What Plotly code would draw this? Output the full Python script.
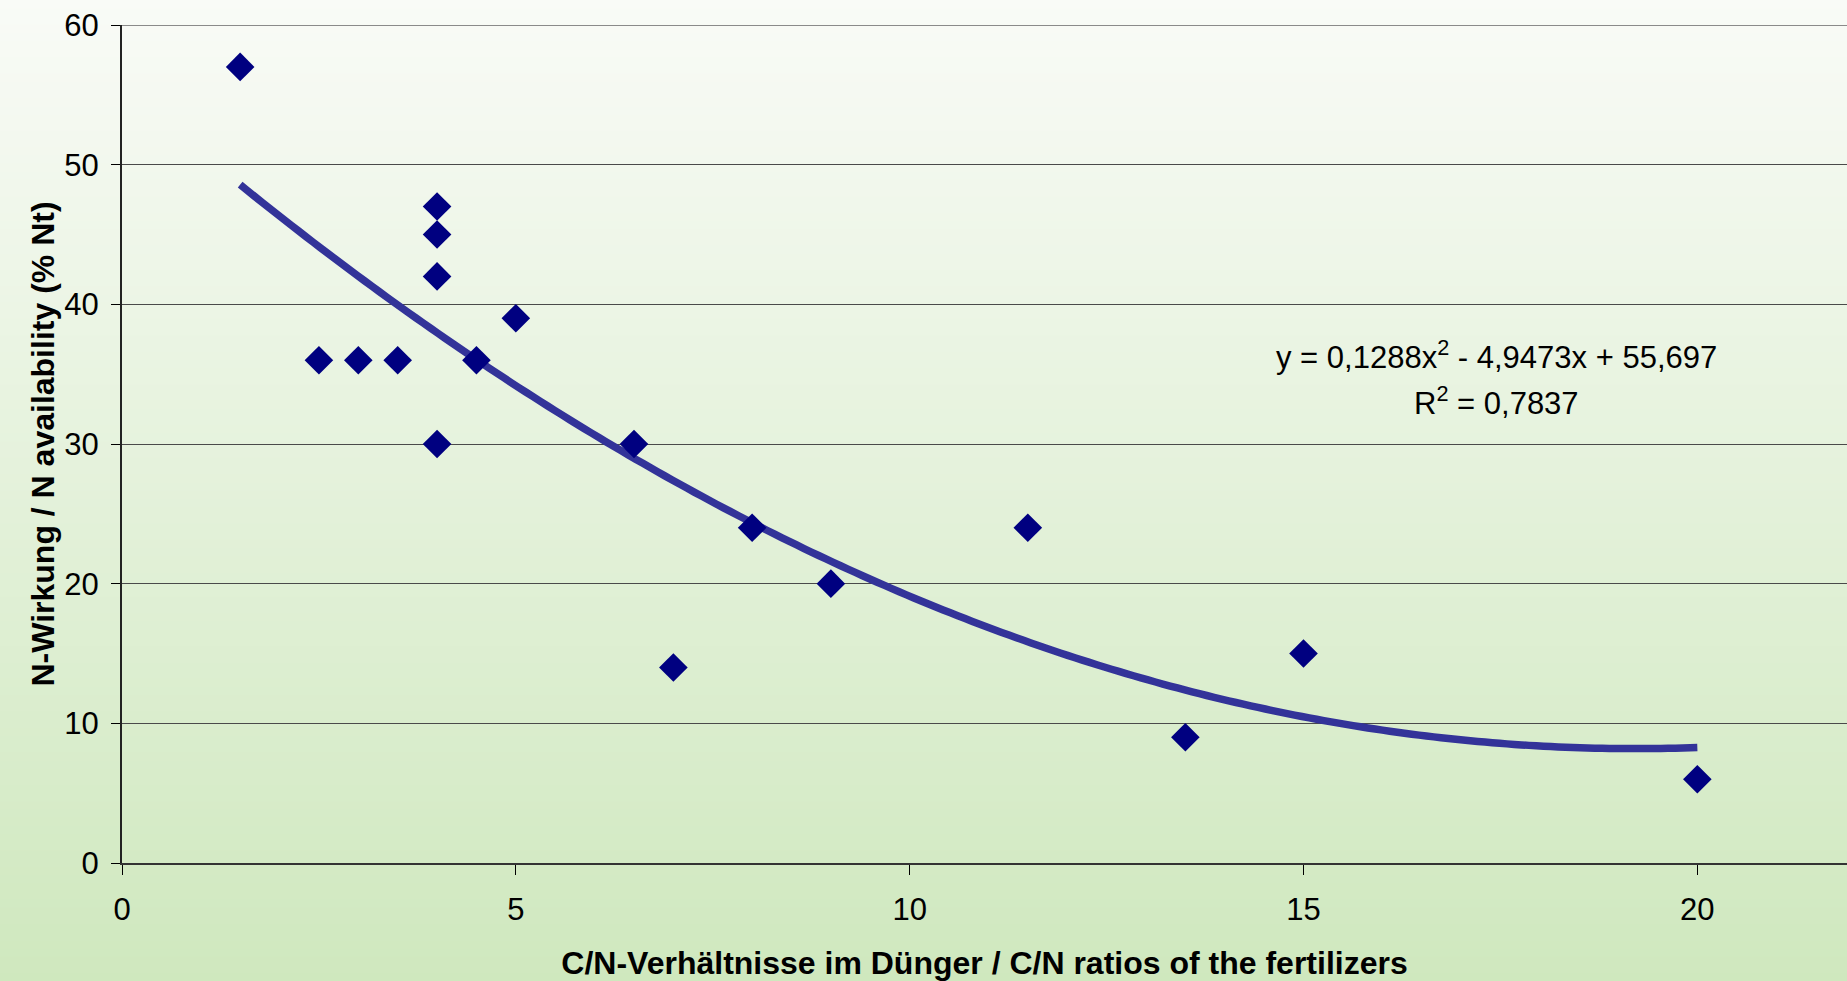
import numpy as np
import plotly.graph_objects as go

# C/N ratio of each fertilizer and its measured N availability (% Nt)
cn_ratio = [1.5, 2.5, 3.0, 3.5, 4.0, 4.0, 4.0, 4.0, 4.5, 5.0, 6.5, 7.0, 8.0, 9.0, 11.5, 13.5, 15.0, 20.0]
n_availability = [57, 36, 36, 36, 47, 45, 42, 30, 36, 39, 30, 14, 24, 20, 24, 9, 15, 6]

# Polynomial trend line (2nd order): y = a*x^2 + b*x + c
trend_a, trend_b, trend_c = 0.1288, -4.9473, 55.697
r_squared = "0,7837"

x_ticks = [0, 5, 10, 15, 20]
y_ticks = [0, 10, 20, 30, 40, 50, 60]

W, H = 1847, 981
M_L, M_R, M_T, M_B = 122, 0, 25, 118
FONT = "Liberation Sans, Arial, sans-serif"

trend_x = np.linspace(min(cn_ratio), max(cn_ratio), 200)
trend_y = trend_a * trend_x ** 2 + trend_b * trend_x + trend_c

fig = go.Figure()
fig.add_trace(go.Scatter(
    x=trend_x, y=trend_y, mode="lines",
    line=dict(color="#333399", width=7.5, simplify=False),
    hoverinfo="skip", showlegend=False,
))
fig.add_trace(go.Scatter(
    x=cn_ratio, y=n_availability, mode="markers",
    marker=dict(symbol="diamond", size=22, color="#000080", line=dict(width=0)),
    showlegend=False,
))

# vertical background gradient over the whole canvas (paper coordinates)
plot_h = H - M_T - M_B
plot_w = W - M_L - M_R
y_bottom = -M_B / plot_h
y_top = 1 + M_T / plot_h
x_left = -M_L / plot_w
top_rgb = np.array([249, 251, 247])
bot_rgb = np.array([207, 232, 190])
n_strips = 120
shapes = []
for i in range(n_strips):
    t0 = i / n_strips
    t1 = (i + 1) / n_strips
    tm = (t0 + t1) / 2
    c = bot_rgb + (top_rgb - bot_rgb) * tm
    shapes.append(dict(
        type="rect", xref="paper", yref="paper", layer="below",
        x0=x_left, x1=1.0,
        y0=y_bottom + (y_top - y_bottom) * t0,
        y1=y_bottom + (y_top - y_bottom) * t1 + 0.002,
        fillcolor="rgb(%d,%d,%d)" % tuple(c.round().astype(int)),
        line=dict(width=0),
    ))
# plot-area top border
shapes.append(dict(type="line", xref="paper", yref="y", x0=0, x1=1, y0=60, y1=60,
                   line=dict(color="#8a8a8a", width=2), layer="below"))

fig.update_layout(
    width=W, height=H,
    margin=dict(l=M_L, r=M_R, t=M_T, b=M_B, pad=0),
    paper_bgcolor="rgb(207,232,190)",
    plot_bgcolor="rgba(0,0,0,0)",
    font=dict(family=FONT, color="#000000", size=32),
    shapes=shapes,
    xaxis=dict(
        range=[0, 21.9], tickvals=x_ticks, ticks="outside", ticklen=10,
        tickwidth=1, tickcolor="#000000", showgrid=False, zeroline=False,
        showline=True, linecolor="#333333", linewidth=2,
        tickfont=dict(size=31), ticklabelstandoff=8,
        title=dict(text="<b>C/N-Verhältnisse im Dünger / C/N ratios of the fertilizers</b>",
                   font=dict(size=32), standoff=28),
    ),
    yaxis=dict(
        range=[0, 60], tickvals=y_ticks, ticks="outside", ticklen=9,
        tickwidth=1, tickcolor="#000000", showgrid=True, gridcolor="#4a4a4a",
        gridwidth=1, zeroline=False, showline=True, linecolor="#222222",
        linewidth=2, tickfont=dict(size=31), ticklabelstandoff=6,
        title=dict(text="<b>N-Wirkung / N availability (% Nt)</b>",
                   font=dict(size=32), standoff=0),
    ),
)

# trend line equation and R², upper right of the plot area
eq_x = (1496 - M_L) / plot_w
fig.add_annotation(
    x=eq_x, y=1 - (355 - M_T) / plot_h,
    xref="x domain", yref="y domain", xanchor="center", yanchor="middle",
    showarrow=False,
    text="y = 0,1288x<sup>2</sup> - 4,9473x + 55,697",
    font=dict(size=31),
)
fig.add_annotation(
    x=eq_x, y=1 - (401 - M_T) / plot_h,
    xref="x domain", yref="y domain", xanchor="center", yanchor="middle",
    showarrow=False,
    text="R<sup>2</sup> = " + r_squared,
    font=dict(size=31),
)

fig.write_html("out.html")
